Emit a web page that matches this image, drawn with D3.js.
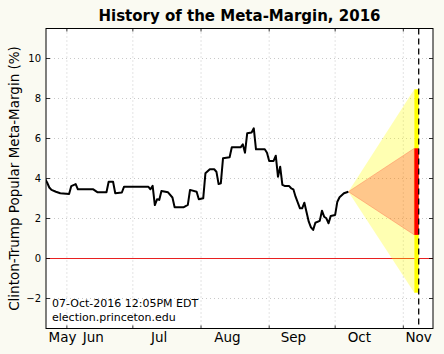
<!DOCTYPE html>
<html><head><meta charset="utf-8">
<script src="https://cdn.jsdelivr.net/npm/d3@7"></script>
<style>
html,body{margin:0;padding:0;background:#fafaf2;}
svg{display:block;font-family:"DejaVu Sans",sans-serif;}
</style></head><body>
<script>
// Day of year 2016 and meta-margin (%)
const days = [143,144,145,146,148,150,154,155,157,158,165,167,171,172,174,175,178,179,190,191,192,193,194,195,196,199,201,202,206,208,209,212,213,215,216,218,220,221,222,223,224,227,228,232,233,234,235,237,238,239,243,244,245,247,248,249,250,251,252,254,255,256,257,259,260,261,263,264,265,266,268,269,270,271,272,273,275,276,277,279,280,281];
const margin = [4.0,3.8,3.55,3.43,3.34,3.26,3.22,3.62,3.72,3.46,3.46,3.31,3.31,3.84,3.84,3.26,3.3,3.59,3.59,3.46,3.63,2.67,2.96,2.93,3.38,3.31,3.05,2.56,2.56,2.68,3.43,3.34,2.96,3.01,4.26,4.46,4.46,4.34,3.72,3.76,5.01,5.06,5.56,5.56,5.71,5.29,6.26,6.3,6.51,5.46,5.46,5.29,4.88,4.88,5.14,4.09,4.59,3.68,3.63,3.63,3.51,3.46,3.09,2.51,2.51,2.79,1.84,1.56,1.43,1.79,1.88,2.39,2.09,2.01,1.76,2.13,2.18,2.84,3.06,3.26,3.3,3.34];
const gridDays = [153,183,214,245,275,306];
const labelDays = [151,165,195,226,256,286,313];
const monthLabels = ["May","Jun","Jul","Aug","Sep","Oct","Nov"];
const yTicks = [-2,0,2,4,6,8,10];
const electionDay = 313;
const coneStart = [281, 3.34];
const coneEndDay = 311;
const outerBand = [8.46, -1.71];
const innerBand = [5.51, 1.18];
const stampLines = ["07-Oct-2016 12:05PM EDT","election.princeton.edu"];

const W=444,H=354, L=46,R=433,T=28.5,B=328.5;
const svg=d3.select("body").append("svg").attr("width",W).attr("height",H);
const x=d3.scaleLinear().domain([143.5,319.5]).range([L,R]);
const y=d3.scaleLinear().domain([-3.5,11.5]).range([B,T]);

svg.append("rect").attr("x",L).attr("y",T).attr("width",R-L).attr("height",B-T).attr("fill","#fff");
svg.append("clipPath").attr("id","clip").append("rect").attr("x",L).attr("y",T).attr("width",R-L).attr("height",B-T);
const g=svg.append("g").attr("clip-path","url(#clip)");

// grid
g.selectAll(".gx").data(gridDays).join("line").attr("x1",d=>x(d)).attr("x2",d=>x(d)).attr("y1",T).attr("y2",B)
 .attr("stroke","#bbb").attr("stroke-width",0.8).attr("stroke-dasharray","1,3");
g.selectAll(".gy").data(yTicks).join("line").attr("x1",L).attr("x2",R).attr("y1",d=>y(d)).attr("y2",d=>y(d))
 .attr("stroke","#bbb").attr("stroke-width",0.8).attr("stroke-dasharray","1,3");

// zero line
g.append("line").attr("x1",L).attr("x2",R).attr("y1",y(0)).attr("y2",y(0)).attr("stroke","#e82020").attr("stroke-width",1);

// cones
const poly=(a,b)=>[[x(coneStart[0]),y(coneStart[1])],[x(coneEndDay),y(a)],[x(coneEndDay),y(b)]].map(p=>p.join(",")).join(" ");
g.append("polygon").attr("points",poly(outerBand[0],outerBand[1])).attr("fill","#ffff00").attr("fill-opacity",0.3);
g.append("polygon").attr("points",poly(innerBand[0],innerBand[1])).attr("fill","#ff0000").attr("fill-opacity",0.22)
 .attr("stroke","#ff6040").attr("stroke-opacity",0.35).attr("stroke-width",1);
// bars
g.append("rect").attr("x",x(coneEndDay)).attr("width",x(electionDay)-x(coneEndDay)).attr("y",y(outerBand[0])).attr("height",y(outerBand[1])-y(outerBand[0])).attr("fill","#ffff00");
g.append("rect").attr("x",x(coneEndDay)).attr("width",x(electionDay)-x(coneEndDay)).attr("y",y(innerBand[0])).attr("height",y(innerBand[1])-y(innerBand[0])).attr("fill","#ff0000");

// line
g.append("path").datum(days.map((d,i)=>[d,margin[i]]))
 .attr("d",d3.line().x(d=>x(d[0])).y(d=>y(d[1])))
 .attr("fill","none").attr("stroke","#000").attr("stroke-width",2).attr("stroke-linejoin","round");

// election day dashed line
g.append("line").attr("x1",x(electionDay)).attr("x2",x(electionDay)).attr("y1",T).attr("y2",B)
 .attr("stroke","#000").attr("stroke-width",1.3).attr("stroke-dasharray","6,4");

// frame
svg.append("rect").attr("x",L).attr("y",T).attr("width",R-L).attr("height",B-T).attr("fill","none").attr("stroke","#000").attr("stroke-width",1);

// ticks
const tk=svg.append("g").attr("stroke","#000").attr("stroke-width",0.8);
yTicks.forEach(v=>{
  tk.append("line").attr("x1",L).attr("x2",L+4).attr("y1",y(v)).attr("y2",y(v));
  tk.append("line").attr("x1",R-4).attr("x2",R).attr("y1",y(v)).attr("y2",y(v));
});
gridDays.forEach(d=>{
  tk.append("line").attr("x1",x(d)).attr("x2",x(d)).attr("y1",B).attr("y2",B-3);
  tk.append("line").attr("x1",x(d)).attr("x2",x(d)).attr("y1",T).attr("y2",T+3);
});

// y tick labels
svg.selectAll(".yl").data(yTicks).join("text").attr("x",L-5).attr("y",d=>y(d)).attr("dy","0.36em")
 .attr("text-anchor","end").attr("font-size","10px").attr("fill","#000").text(d=>d<0?"\u2212"+Math.abs(d):d);
// x labels
svg.selectAll(".xl").data(labelDays).join("text").attr("x",d=>x(d)).attr("y",342)
 .attr("text-anchor","middle").attr("font-size","13.5px").attr("fill","#000").text((d,i)=>monthLabels[i]);

// axis title
svg.append("text").attr("transform",`translate(19,${(T+B)/2}) rotate(-90)`).attr("text-anchor","middle")
 .attr("font-size","13.5px").attr("fill","#000").text("Clinton-Trump Popular Meta-Margin (%)");
// title
svg.append("text").attr("x",(L+R)/2).attr("y",21).attr("text-anchor","middle").attr("font-size","15px").attr("font-weight","bold")
 .attr("fill","#000").text("History of the Meta-Margin, 2016");
// stamp
svg.selectAll(".st").data(stampLines).join("text").attr("x",52).attr("y",(d,i)=>307.3+i*13.4)
 .attr("font-size","11px").attr("fill","#000").text(d=>d);
</script>
</body></html>
